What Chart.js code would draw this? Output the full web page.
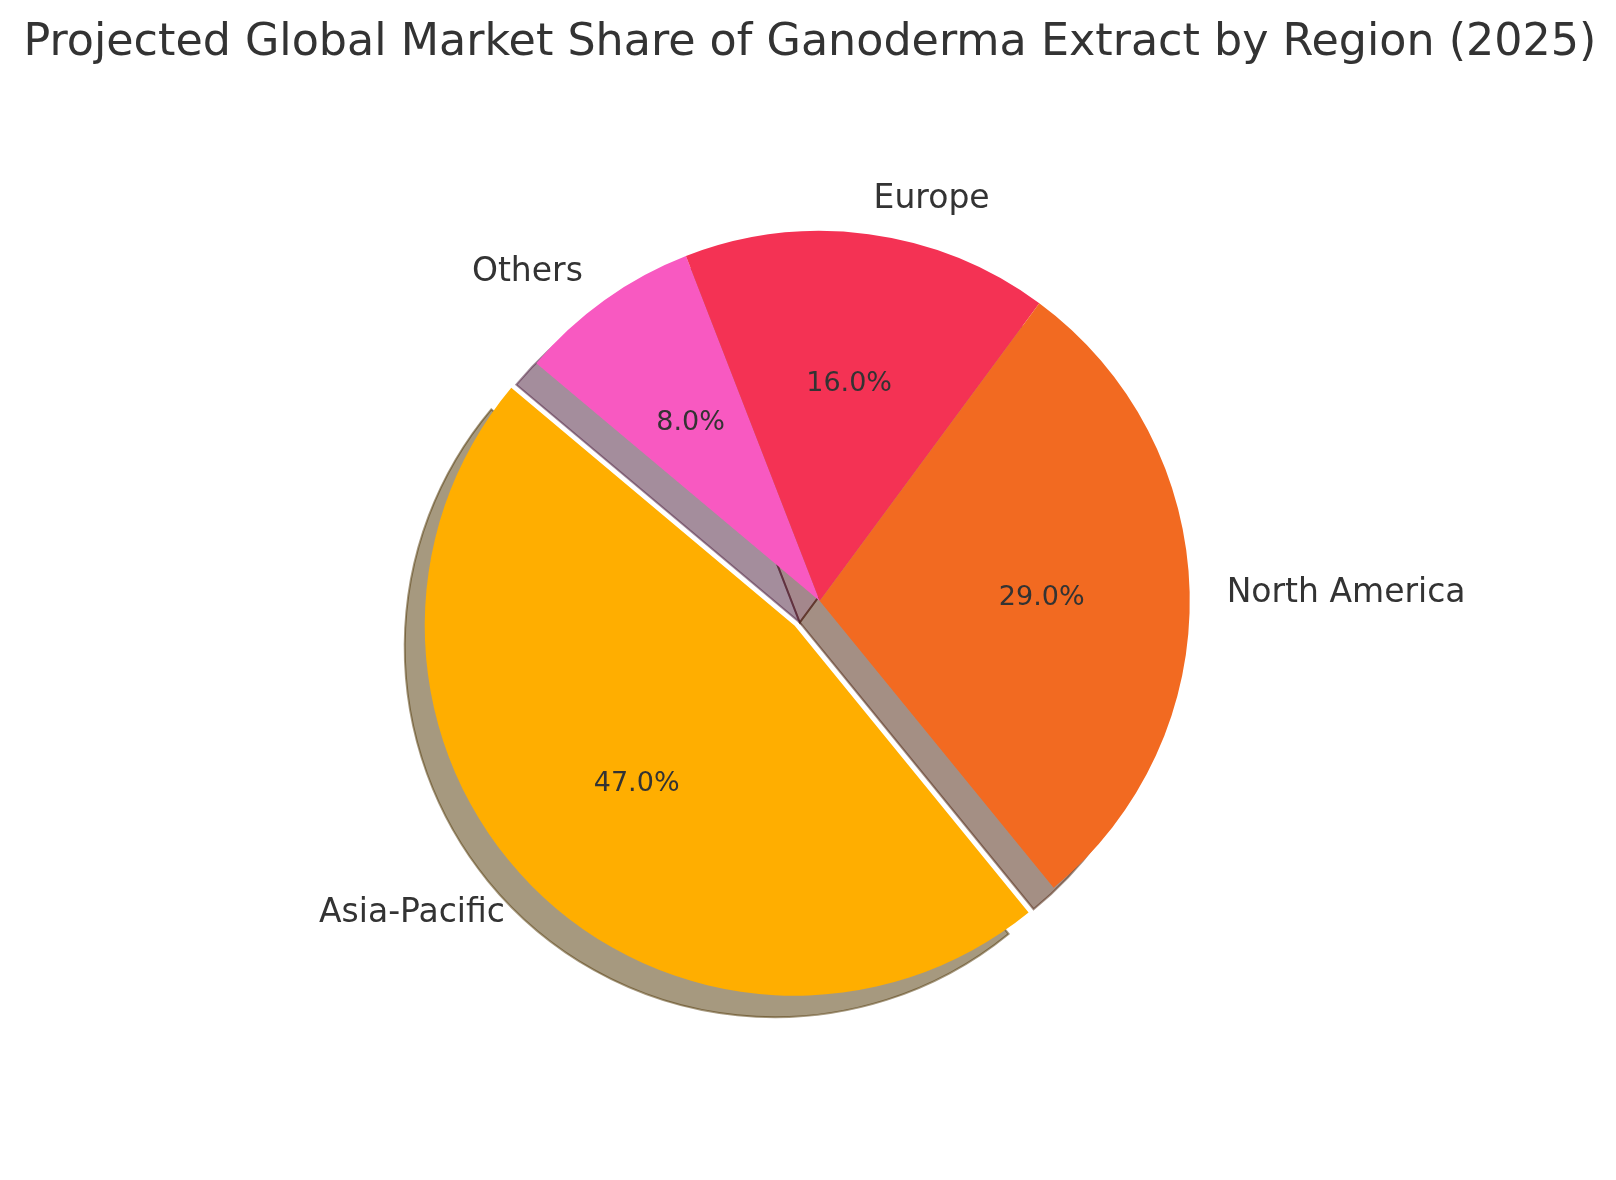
<!DOCTYPE html>
<html>
<head>
<meta charset="utf-8">
<script src="https://cdn.jsdelivr.net/npm/chart.js@4.4.1/dist/chart.umd.min.js"></script>
<style>
  body { margin: 0; background: #fff; }
  canvas { display: block; }
</style>
</head>
<body>
<canvas id="canvas" width="1616" height="1180"></canvas>
<script>
const regions = ['Asia-Pacific', 'North America', 'Europe', 'Others'];
const shares = [47, 29, 16, 8];
const colors = ['#FFAE00', '#F26A21', '#F43254', '#F859C1'];
const explode = [0.095, 0, 0, 0];

// matplotlib draws counter-clockwise from 140 deg, chart.js clockwise -> reverse
const order = [3, 2, 1, 0];
const total = shares.reduce((a, b) => a + b, 0);
const font = 'DejaVu Sans';
const textColor = '#333333';

function shadowOf(hex) {
  const n = parseInt(hex.slice(1), 16);
  const r = ((n >> 16) & 255) * 0.3, g = ((n >> 8) & 255) * 0.3, b = (n & 255) * 0.3;
  return 'rgb(' + r + ',' + g + ',' + b + ')';
}

// shadows, explode and labels like matplotlib's pie
const pieDecor = {
  id: 'pieDecor',
  beforeDatasetDraw() {
    return false;
  },
  afterDatasetsDraw(chart) {
    const ctx = chart.ctx;
    const arcs = chart.getDatasetMeta(0).data;
    const shift = arcs.map((arc, i) => {
      const a = (arc.startAngle + arc.endAngle) / 2;
      const e = explode[order[i]] * arc.outerRadius;
      return [Math.cos(a) * e, Math.sin(a) * e];
    });

    // shadows first
    arcs.forEach((arc, i) => {
      const c = shadowOf(colors[order[i]]);
      ctx.save();
      ctx.translate(shift[i][0] - 20, shift[i][1] + 21.5);
      ctx.beginPath();
      ctx.moveTo(arc.x, arc.y);
      ctx.arc(arc.x, arc.y, arc.outerRadius, arc.startAngle, arc.endAngle);
      ctx.closePath();
      ctx.globalAlpha = 0.5;
      ctx.fillStyle = c;
      ctx.fill();
      ctx.lineWidth = 2;
      ctx.strokeStyle = c;
      ctx.stroke();
      ctx.restore();
    });

    arcs.forEach((arc, i) => {
      ctx.save();
      ctx.translate(shift[i][0], shift[i][1]);
      arc.draw(ctx);
      ctx.restore();
    });

    ctx.save();
    ctx.fillStyle = textColor;
    ctx.textBaseline = 'alphabetic';
    arcs.forEach((arc, i) => {
      const k = order[i];
      const a = (arc.startAngle + arc.endAngle) / 2;
      const cx = arc.x + shift[i][0], cy = arc.y + shift[i][1];
      const R = arc.outerRadius;

      ctx.font = '33px "' + font + '"';
      ctx.textAlign = Math.cos(a) > 0 ? 'left' : 'right';
      ctx.fillText(regions[k], cx + 1.1 * R * Math.cos(a), cy + 1.1 * R * Math.sin(a) + 33 * 0.33);

      ctx.font = '27px "' + font + '"';
      ctx.textAlign = 'center';
      const pct = (shares[k] / total * 100).toFixed(1) + '%';
      ctx.fillText(pct, cx + 0.6 * R * Math.cos(a), cy + 0.6 * R * Math.sin(a) + 27 * 0.36);
    });
    ctx.restore();
  }
};

const ctx = document.getElementById('canvas').getContext('2d');

const myChart = new Chart(ctx, {
  type: 'pie',
  data: {
    labels: order.map(i => regions[i]),
    datasets: [{
      data: order.map(i => shares[i]),
      backgroundColor: order.map(i => colors[i]),
      borderWidth: 0,
    }]
  },
  options: {
    responsive: false,
    animation: false,
    events: [],
    rotation: -50,
    layout: {
      padding: { left: 23.5, right: 0, top: 0, bottom: 209 }
    },
    plugins: {
      legend: { display: false },
      tooltip: { enabled: false },
      title: {
        display: true,
        text: 'Projected Global Market Share of Ganoderma Extract by Region (2025)',
        align: 'start',
        color: textColor,
        font: { family: font, size: 44.4, weight: 'normal', lineHeight: 1.2 },
        padding: { top: 16.7, bottom: 161 }
      }
    }
  },
  plugins: [pieDecor]
});
</script>
</body>
</html>
